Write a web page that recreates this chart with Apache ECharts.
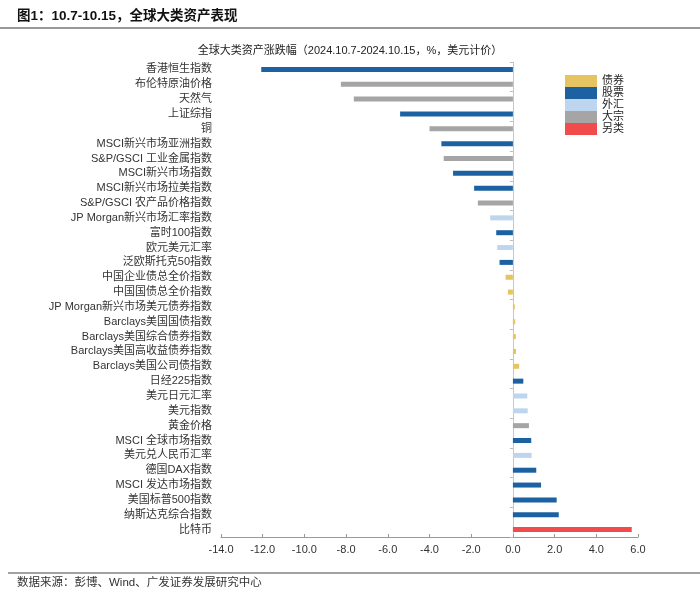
<!DOCTYPE html>
<html>
<head>
<meta charset="utf-8">
<script src="https://cdn.jsdelivr.net/npm/echarts@6/dist/echarts.min.js"></script>
<style>html,body{margin:0;padding:0;background:#fff;}#c{width:700px;height:595px;}</style>
</head>
<body>
<div id="c"></div>
<script>
const categories = ['香港恒生指数','布伦特原油价格','天然气','上证综指','铜','MSCI新兴市场亚洲指数','S&P/GSCI 工业金属指数','MSCI新兴市场指数','MSCI新兴市场拉美指数','S&P/GSCI 农产品价格指数','JP Morgan新兴市场汇率指数','富时100指数','欧元美元汇率','泛欧斯托克50指数','中国企业债总全价指数','中国国债总全价指数','JP Morgan新兴市场美元债券指数','Barclays美国国债指数','Barclays美国综合债券指数','Barclays美国高收益债券指数','Barclays美国公司债指数','日经225指数','美元日元汇率','美元指数','黄金价格','MSCI 全球市场指数','美元兑人民币汇率','德国DAX指数','MSCI 发达市场指数','美国标普500指数','纳斯达克综合指数','比特币'];
const values = [-12.07,-8.25,-7.63,-5.41,-4.0,-3.43,-3.32,-2.87,-1.86,-1.68,-1.09,-0.80,-0.75,-0.64,-0.35,-0.24,0.09,0.11,0.14,0.15,0.30,0.50,0.69,0.71,0.77,0.88,0.90,1.12,1.35,2.10,2.20,5.70];
const classes = ['股票','大宗','大宗','股票','大宗','股票','大宗','股票','股票','大宗','外汇','股票','外汇','股票','债券','债券','债券','债券','债券','债券','债券','股票','外汇','外汇','大宗','股票','外汇','股票','股票','股票','股票','另类'];
const classNames = ['债券','股票','外汇','大宗','另类'];
const classColors = ['#E6C462','#1C62A2','#BDD6EE','#A5A5A5','#F24B4B'];
const xTicks = [-14,-12,-10,-8,-6,-4,-2,0,2,4,6];

const chart = echarts.init(document.getElementById('c'));
const FONT = '"Liberation Sans","Noto Sans CJK SC",sans-serif';
const series = classNames.map((n, k) => ({
  name: n, type: 'bar', stack: 'all', barWidth: 5, barMinHeight: 0,
  itemStyle: {color: classColors[k]},
  data: values.map((v, i) => classes[i] === n ? v : null)
}));
chart.setOption({
  animation: false,
  textStyle: {fontFamily: FONT},
  title: {
    text: '全球大类资产涨跌幅（2024.10.7-2024.10.15，%，美元计价）',
    left: 'center', top: 40,
    textStyle: {fontSize: 11, fontWeight: 'normal', color: '#222', fontFamily: FONT}
  },
  legend: {
    orient: 'vertical', left: 560, top: 70,
    itemWidth: 32, itemHeight: 12, itemGap: 0, icon: 'rect',
    textStyle: {fontSize: 11, color: '#222', lineHeight: 12, fontFamily: FONT},
    data: classNames
  },
  grid: {left: 221, right: 62, top: 62, bottom: 58},
  xAxis: {
    type: 'value', min: xTicks[0], max: xTicks[xTicks.length-1], interval: 2,
    axisLine: {show: true, onZero: false, lineStyle: {color: '#999'}},
    axisTick: {show: true, inside: true, length: 3, lineStyle: {color: '#999'}},
    splitLine: {show: false},
    axisLabel: {fontSize: 11, color: '#333', margin: 7, formatter: v => v.toFixed(1)}
  },
  yAxis: [{
    type: 'category', data: categories, inverse: true,
    axisLine: {show: false, onZero: false}, axisTick: {show: false},
    axisLabel: {fontSize: 11, color: '#333', margin: 9, interval: 0}
  }, {
    type: 'category', data: categories, inverse: true, position: 'left',
    axisLine: {show: true, onZero: true, lineStyle: {color: '#C8C8C8'}},
    axisTick: {show: true, length: 3, lineStyle: {color: '#BBB'}},
    axisLabel: {show: false}
  }],
  series: series,
  graphic: [
    {type: 'text', left: 17, top: 10, style: {text: '图1：10.7-10.15，全球大类资产表现', font: 'bold 13.5px ' + FONT, fill: '#111'}},
    {type: 'line', shape: {x1: 0, y1: 28, x2: 700, y2: 28}, style: {stroke: '#333', lineWidth: 1}},
    {type: 'line', shape: {x1: 8, y1: 573, x2: 700, y2: 573}, style: {stroke: '#444', lineWidth: 1}},
    {type: 'text', left: 17, top: 577, style: {text: '数据来源：彭博、Wind、广发证券发展研究中心', font: '11.5px ' + FONT, fill: '#333'}}
  ]
});
</script>
</body>
</html>
